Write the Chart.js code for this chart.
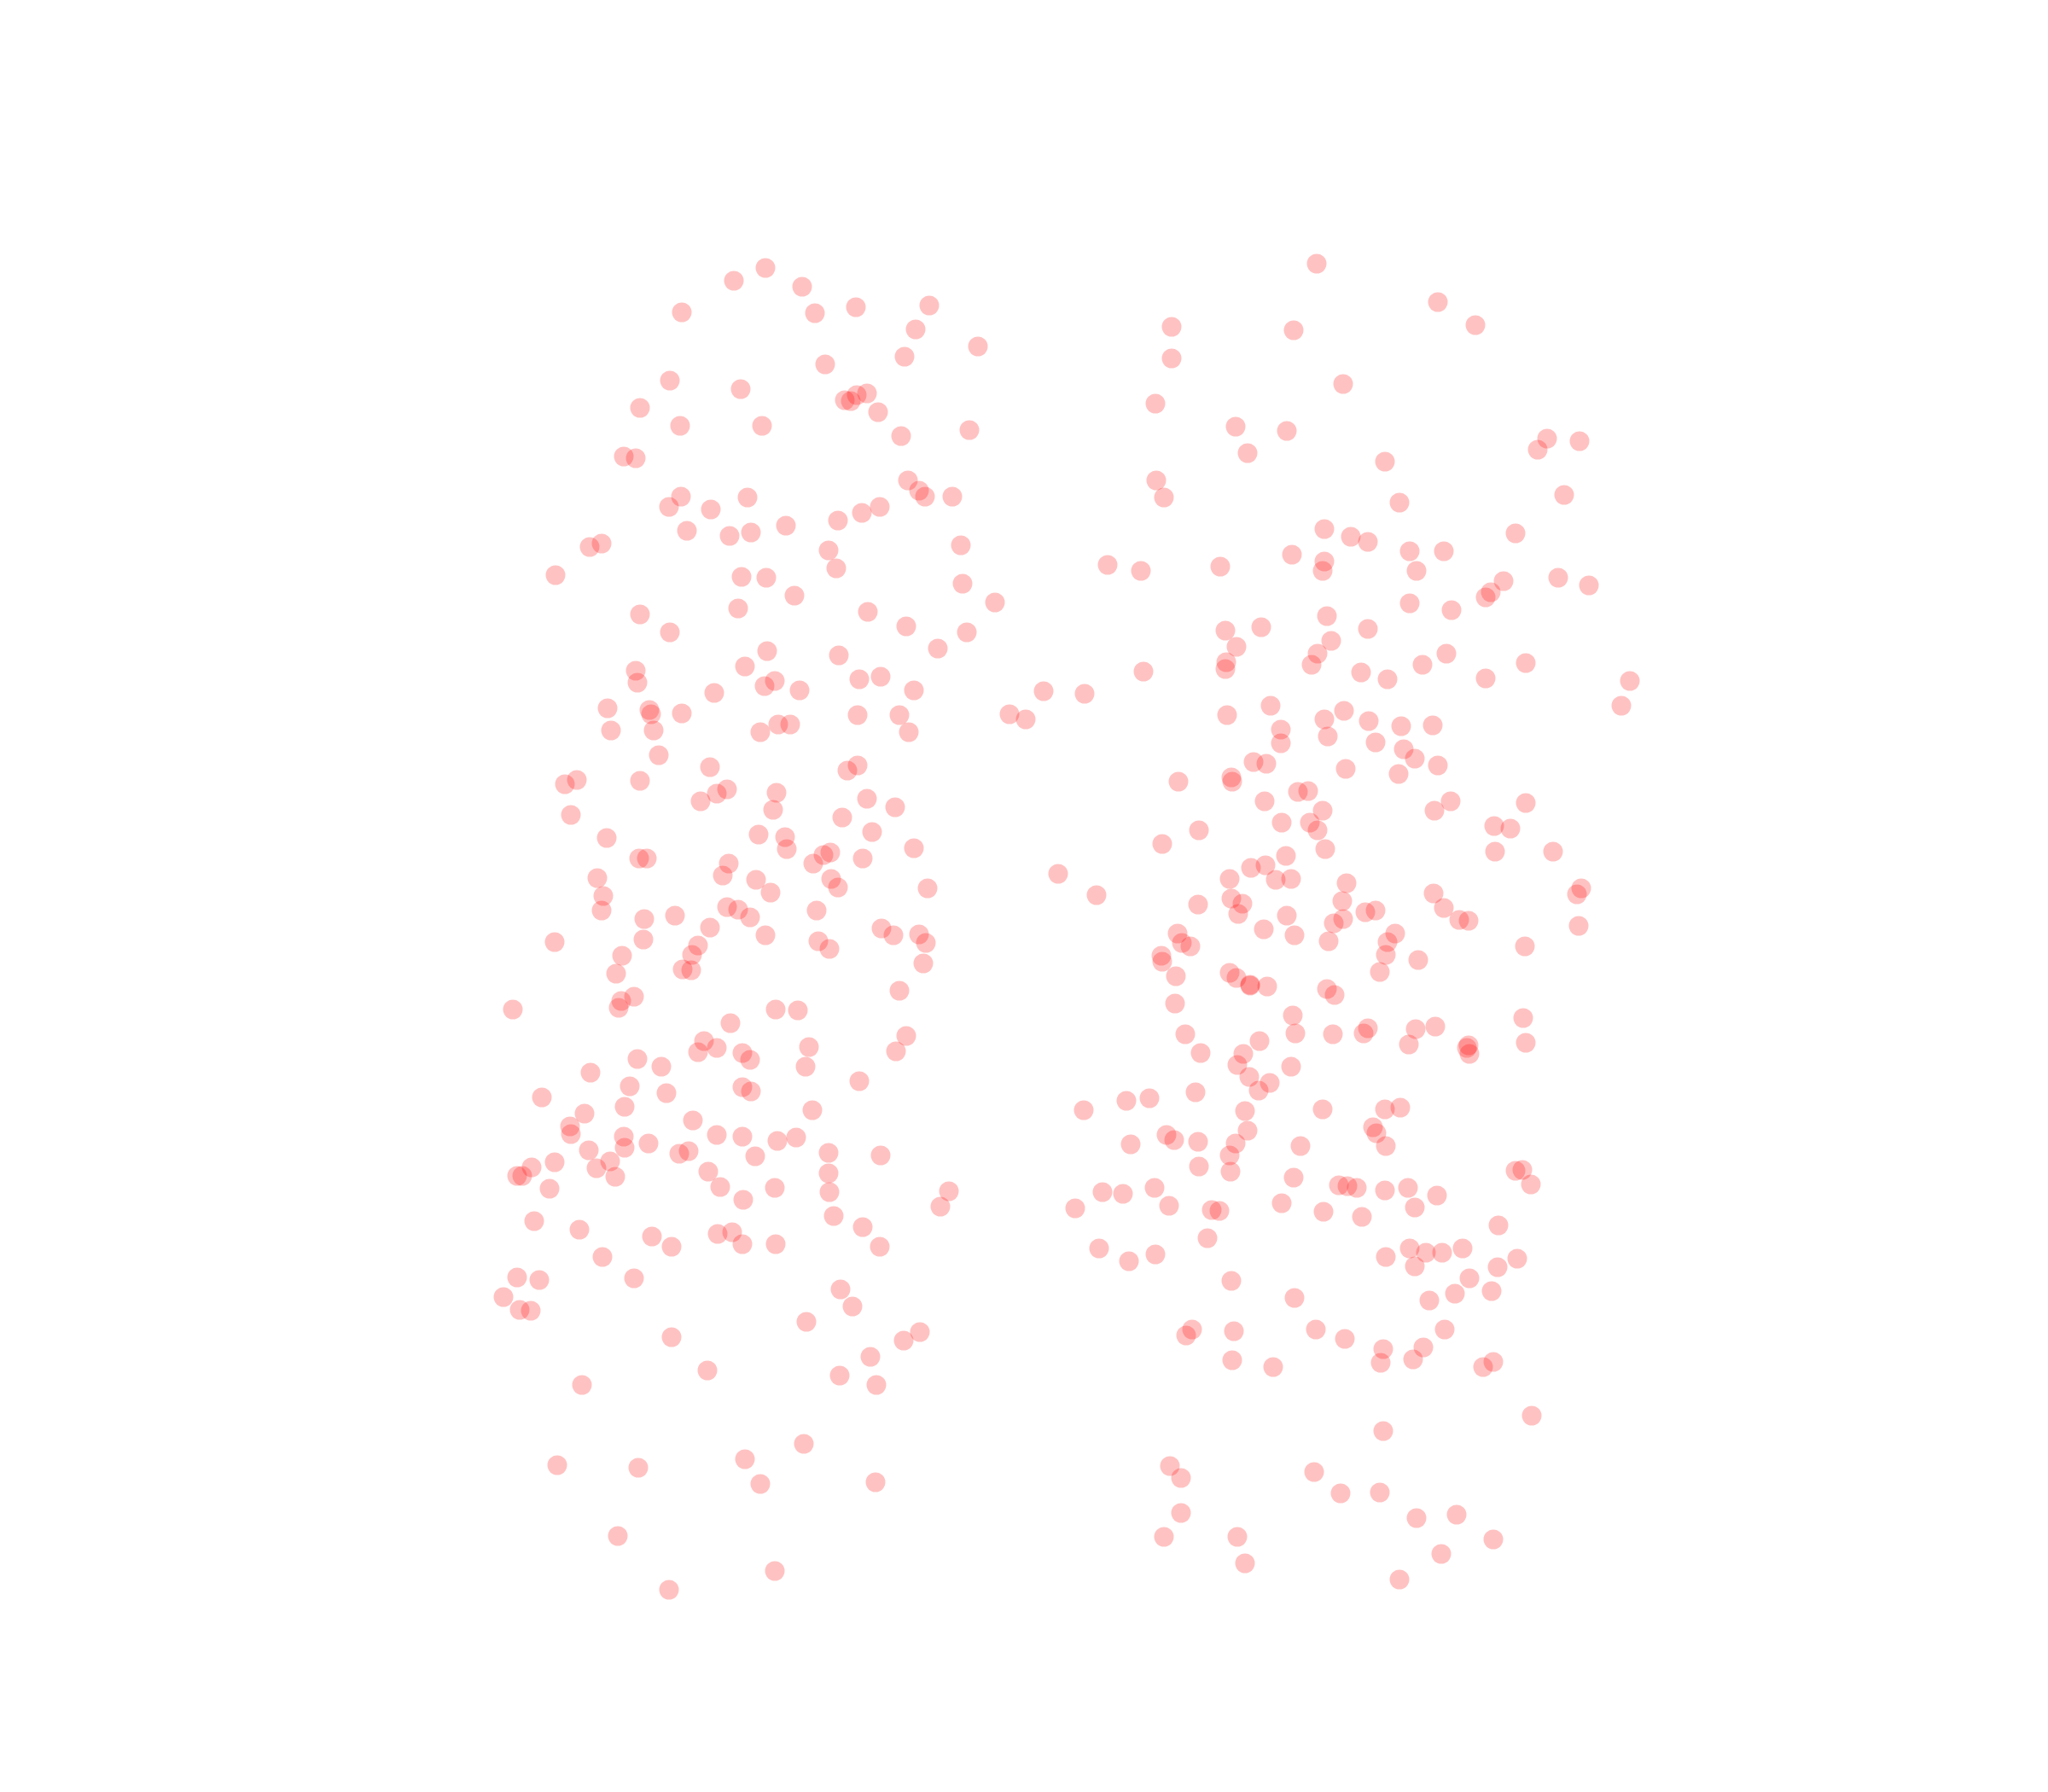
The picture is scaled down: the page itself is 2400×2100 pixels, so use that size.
<!DOCTYPE html>
<html>
<head>
<meta charset="utf-8">
<style>html,body{margin:0;padding:0;background:#fff}canvas{display:block}</style>
<script src="https://cdn.jsdelivr.net/npm/chart.js@4"></script>
</head>
<body>
<canvas id="c" width="2400" height="2100"></canvas>
<script>
const leftCluster = [
[897,314],[860,329],[940,336],[799,366],[955,367],[1003,360],[1089,358],[1073,386],[1146,406],[967,427],[1060,418],[785,446],[868,456],[990,469],[1004,463],[997,470],[1016,461],[1029,483],[750,478],[797,499],[893,499],[1056,511],[1136,504],[731,535],[745,537],[1064,563],[1077,575],[1084,582],[1116,582],[798,582],[784,594],[833,597],[876,583],[805,622],[855,628],[880,624],[921,616],[982,610],[1010,601],[1031,594],[971,645],[980,666],[1126,639],[691,641],[705,637],[651,674],[869,676],[898,677],[931,698],[1128,684],[1166,706],[865,713],[750,720],[785,741],[1017,717],[1062,734],[1133,741],[1099,760],[899,763],[983,768],[873,781],[745,786],[747,800],[908,798],[896,804],[937,809],[1007,796],[1032,793],[1071,809],[837,812],[712,830],[761,832],[763,837],[799,836],[1005,838],[1054,838],[1183,837],[716,856],[766,856],[912,849],[926,849],[891,858],[1065,858],[772,885],
[832,899],[993,903],[1005,897],[662,919],[676,914],[750,915],[669,955],[821,939],[840,930],[852,925],[910,929],[906,949],[1016,936],[1049,946],[987,958],[711,982],[889,978],[920,981],[922,995],[1022,975],[1071,994],[749,1006],[758,1006],[965,1002],[973,999],[953,1012],[1011,1006],[854,1012],[847,1026],[700,1029],[886,1031],[903,1046],[974,1030],[982,1040],[1087,1041],[707,1050],[705,1067],[852,1063],[865,1066],[879,1075],[957,1067],[791,1073],[755,1077],[832,1087],[897,1096],[1033,1088],[1047,1096],[1077,1095],[1085,1105],[959,1103],[972,1112],[754,1101],[650,1104],[818,1108],[811,1119],[729,1120],[800,1136],[810,1137],[722,1141],[1082,1129],[1054,1161],[728,1173],[743,1168],[725,1181],[601,1183],[909,1183],[935,1184],[856,1199],[1062,1214],[1050,1232],[948,1227],[944,1250],[825,1220],[840,1228],[818,1233],[870,1234],[879,1242],[747,1241],[775,1250],[692,1257],[738,1273],[1007,1267],[781,1281],[870,1274],[880,1279],[635,1286],[732,1297],[952,1301],[685,1305],[812,1313],[668,1320],[669,1329],[840,1330],[870,1332],[731,1332],[933,1333],[911,1337],[760,1340],[732,1345],[690,1348],[807,1349],[796,1352],[971,1351],[1032,1354],[885,1355],[715,1361],[650,1362],[623,1368],[699,1369],[830,1373],[971,1375],[606,1378],[612,1378],[721,1379],[644,1393],[844,1391],[908,1392],[972,1397],[1112,1396],[871,1406],[1102,1414],[977,1425],[626,1431],[679,1441],[1011,1438],[764,1449],[841,1446],[858,1444],[787,1461],[870,1458],[909,1458],[1031,1461],[706,1473],
[606,1497],[632,1500],[743,1498],[590,1520],[609,1535],[622,1536],[985,1511],[999,1531],[945,1549],[787,1567],[1078,1561],[1059,1571],[1020,1590],[829,1606],[682,1623],[984,1612],[1027,1623],[942,1692],[873,1710],[653,1717],[748,1720],[891,1739],[1026,1737],[724,1800],[908,1841],[784,1863],
[1202,843],[1223,810]
];
const rightCluster = [
[1543,309],[1685,354],[1729,381],[1373,383],[1516,387],[1373,420],[1574,450],[1354,473],[1448,500],[1508,505],[1462,531],[1813,514],[1851,517],[1802,527],[1623,541],[1355,563],[1364,583],[1833,580],[1640,589],[1552,620],[1583,629],[1603,635],[1776,625],[1652,646],[1692,646],[1298,662],[1337,669],[1430,664],[1514,650],[1552,658],[1550,669],[1660,669],[1762,681],[1747,694],[1741,700],[1826,677],[1862,686],[1652,707],[1701,715],[1555,722],[1478,735],[1436,739],[1603,737],[1560,751],[1449,758],[1544,766],[1695,766],[1788,777],[1437,776],[1436,784],[1537,779],[1667,779],[1340,787],[1595,788],[1626,796],[1741,795],[1910,798],[1271,813],[1900,827],[1489,827],[1438,838],[1575,833],[1552,843],[1604,845],[1642,851],[1679,850],[1501,855],[1501,871],[1556,863],[1612,870],[1645,878],[1658,889],
[1469,893],[1484,895],[1577,901],[1685,897],[1639,907],[1381,916],[1443,911],[1444,916],[1521,928],[1533,927],[1482,939],[1550,950],[1700,939],[1681,950],[1788,941],[1502,964],[1535,964],[1544,973],[1405,973],[1751,968],[1770,971],[1362,989],[1553,995],[1752,998],[1820,998],[1507,1003],[1483,1014],[1466,1017],[1441,1030],[1495,1031],[1513,1030],[1578,1035],[1680,1047],[1853,1041],[1848,1048],[1285,1049],[1443,1053],[1456,1059],[1451,1071],[1404,1060],[1573,1056],[1612,1067],[1600,1069],[1692,1064],[1508,1073],[1574,1077],[1563,1082],[1710,1078],[1721,1079],[1850,1085],[1481,1089],[1380,1094],[1517,1096],[1635,1094],[1626,1104],[1385,1105],[1395,1109],[1557,1103],[1787,1109],[1361,1120],[1362,1127],[1624,1119],[1662,1125],[1617,1139],[1441,1140],[1449,1146],[1465,1154],[1465,1155],[1485,1156],[1378,1144],[1555,1159],[1564,1166],[1377,1176],[1515,1190],[1518,1211],[1562,1212],[1603,1205],[1598,1211],[1659,1206],[1682,1203],[1785,1193],[1788,1222],[1389,1212],[1407,1234],[1476,1220],[1651,1224],[1721,1225],[1719,1228],[1722,1235],[1457,1235],[1450,1248],[1513,1250],[1464,1262],[1488,1269],[1475,1278],[1401,1280],[1270,1301],[1320,1290],[1347,1287],[1459,1302],[1550,1300],[1623,1300],[1641,1298],[1609,1321],[1613,1328],[1624,1343],[1462,1325],[1367,1330],[1376,1336],[1325,1341],[1404,1338],[1448,1340],[1524,1343],[1441,1354],[1405,1367],[1442,1373],[1776,1372],[1784,1371],[1794,1388],[1516,1380],[1569,1389],[1579,1390],[1590,1392],[1623,1395],[1650,1392],[1684,1401],[1353,1392],[1292,1397],[1316,1399],[1370,1413],[1260,1416],[1420,1418],[1429,1419],[1502,1410],[1551,1420],[1658,1415],[1596,1426],[1756,1436],[1415,1451],[1288,1463],[1354,1470],[1323,1478],[1624,1473],[1652,1463],[1671,1468],[1690,1468],[1714,1463],[1658,1484],[1778,1475],[1755,1485],[1722,1498],[1443,1501],
[1748,1513],[1705,1516],[1675,1524],[1517,1521],[1397,1558],[1390,1565],[1446,1560],[1542,1558],[1576,1569],[1621,1581],[1618,1597],[1668,1579],[1656,1593],[1693,1558],[1750,1596],[1738,1602],[1444,1594],[1492,1602],[1621,1677],[1795,1659],[1371,1718],[1384,1732],[1540,1725],[1571,1750],[1617,1749],[1384,1773],[1660,1779],[1707,1775],[1364,1801],[1450,1801],[1750,1804],[1689,1821],[1459,1832],[1640,1851],
[1240,1024]
];
const toXY = p => ({x: p[0], y: p[1]});
const dotStyle = {
  pointBackgroundColor: 'rgba(255,0,0,0.24)',
  backgroundColor: 'rgba(255,0,0,0.24)',
  pointBorderWidth: 0,
  borderWidth: 0,
  pointRadius: 11.5,
  pointHoverRadius: 11.5,
  clip: false
};
new Chart(document.getElementById('c'), {
  type: 'scatter',
  data: { datasets: [
    Object.assign({ data: leftCluster.map(toXY) }, dotStyle),
    Object.assign({ data: rightCluster.map(toXY) }, dotStyle)
  ]},
  options: {
    responsive: false,
    devicePixelRatio: 1,
    animation: false,
    layout: { padding: 0, autoPadding: false },
    plugins: { legend: { display: false }, tooltip: { enabled: false }, title: { display: false } },
    scales: {
      x: { type: 'linear', display: false, min: 0, max: 2400 },
      y: { type: 'linear', display: false, min: 0, max: 2100, reverse: true }
    }
  }
});
</script>
</body>
</html>
